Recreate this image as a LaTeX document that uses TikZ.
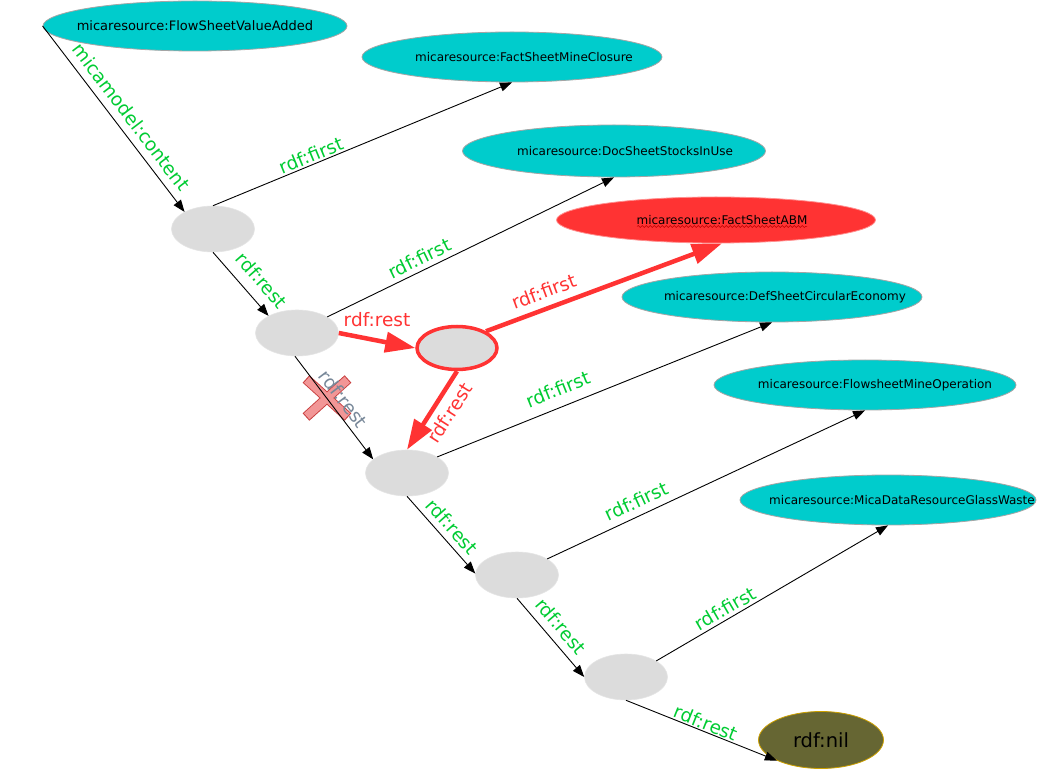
\documentclass[tikz,border=0pt]{standalone}
\usepackage{fontspec}
\setmainfont{DejaVu Sans}
\usetikzlibrary{shapes.geometric,arrows.meta,decorations.pathmorphing}
\definecolor{cyanfill}{RGB}{0,204,204}
\definecolor{cyanline}{RGB}{165,165,165}
\definecolor{blankfill}{RGB}{220,220,220}
\definecolor{blankline}{RGB}{228,228,228}
\definecolor{hired}{RGB}{255,51,51}
\definecolor{edgegreen}{RGB}{0,204,51}
\definecolor{nilfill}{RGB}{102,102,51}
\definecolor{nilline}{RGB}{204,160,0}
\definecolor{crossgray}{RGB}{120,136,153}
\definecolor{xfill}{RGB}{242,150,150}
\definecolor{xline}{RGB}{200,60,60}
\newcommand\restext[2]{\makebox[0pt]{\hspace*{#1}#2}}
\begin{document}
\begin{tikzpicture}[x=1pt,y=-1pt,
  res/.style={ellipse, draw=cyanline, line width=0.8pt, fill=cyanfill, inner sep=0pt,
    font=\fontsize{12}{14}\selectfont, minimum width=302pt, minimum height=50pt},
  blank/.style={ellipse, draw=blankline, line width=0.6pt, fill=blankfill, inner sep=0pt,
    minimum width=83pt, minimum height=46pt},
  nilnode/.style={ellipse, draw=nilline, line width=0.8pt, fill=nilfill, inner sep=0pt,
    minimum width=125pt, minimum height=57pt, font=\fontsize{19.5}{22}\selectfont},
  link/.style={draw=black, line width=0.9pt, -{Triangle[length=12pt,width=9pt]}},
  hilink/.style={draw=hired, line width=4.5pt, -{Triangle[length=30pt,width=20pt]}},
  lab/.style={inner sep=0pt, text=edgegreen, font=\fontsize{18.5}{21}\selectfont},
  elab/.style={lab, sloped},
]
\useasboundingbox (0,0) rectangle (1044,783);
\fill[white] (0,0) rectangle (1044,783);

% resource nodes
\node[res, minimum width=304pt, font=\fontsize{13}{15}\selectfont] (fva) at (195,26) {\restext{0pt}{micaresource:FlowSheetValueAdded}};
\node[res, minimum width=300pt] (fsmc) at (512,57) {\restext{24pt}{micaresource:FactSheetMineClosure}};
\node[res, minimum width=303pt, minimum height=52pt] (dssiu) at (614,151) {\restext{22pt}{micaresource:DocSheetStocksInUse}};
\node[res, fill=hired, draw=hired!55!white, minimum width=319pt, minimum height=46pt] (abm) at (716,220) {\restext{12pt}{micaresource:FactSheetABM}};
\node[res, minimum width=300pt] (dsce) at (772,297) {\restext{26pt}{micaresource:DefSheetCircularEconomy}};
\node[res, minimum width=302pt] (fmo) at (865,385) {\restext{20pt}{micaresource:FlowsheetMineOperation}};
\node[res, minimum width=296pt] (mdrgw) at (888,500) {\restext{28pt}{micaresource:MicaDataResourceGlassWaste}};
\node[nilnode] (nil) at (821,740) {\makebox[0pt]{rdf:nil}};

% spell-check underline
\draw[decorate, decoration={snake, amplitude=1pt, segment length=4pt}, red!75!black, line width=0.5pt] (637,226.5) -- (807,226.5);

% blank nodes
\node[blank] (b1) at (213,229) {};
\node[blank] (b2) at (297,333) {};
\node[blank, draw=hired, line width=3.5pt, minimum width=80pt, minimum height=43pt] (b3) at (457,348) {};
\node[blank] (b4) at (407,473) {};
\node[blank] (b5) at (517,575) {};
\node[blank] (b6) at (626,677) {};

% crossed-out mark
\begin{scope}[shift={(327,398)}]
  \draw[xline, line width=10pt] (-21,-19) -- (21,19) (21,-19) -- (-21,19);
  \draw[xfill, line width=8.2pt] (-20.3,-18.3) -- (20.3,18.3) (20.3,-18.3) -- (-20.3,18.3);
\end{scope}

% black edges
\draw[link] (fva.west) -- node[elab, pos=0.54, above, outer ysep=8.2pt] {micamodel:content} (b1.149);
\draw[link] (b1.north) -- node[elab, pos=0.34, above, outer ysep=2.1pt] {rdf:first} (fsmc.south);
\draw[link] (b1.south) -- node[elab, pos=0.63, above, outer ysep=11.1pt] {rdf:rest} (b2.149);
\draw[link] (b2.28) -- node[elab, pos=0.34, above, outer ysep=5.3pt] {rdf:first} (dssiu.south);
\draw[link] (b2.-95) -- node[elab, pos=0.49, above, outer ysep=5.8pt, text=crossgray] {rdf:rest} (b4.158);
\draw[link] (b4.28) -- node[elab, pos=0.38, above, outer ysep=10.8pt] {rdf:first} (dsce.south);
\draw[link] (b4.south) -- node[elab, pos=0.51, above, outer ysep=6.4pt] {rdf:rest} (b5.178);
\draw[link] (b5.28) -- node[elab, pos=0.30, above, outer ysep=7.4pt] {rdf:first} (fmo.south);
\draw[link] (b5.south) -- node[elab, pos=0.48, above, outer ysep=8.2pt] {rdf:rest} (b6.west);
\draw[link] (b6.28) -- node[elab, pos=0.32, above, outer ysep=3.3pt] {rdf:first} (mdrgw.south);
\draw[link] (b6.south) -- node[elab, pos=0.51, above, outer ysep=1.6pt] {rdf:rest} (nil.205);

% highlighted (red) edges
\draw[hilink] (b2.east) -- node[lab, text=hired, pos=0.5, above, outer ysep=13.8pt] {rdf:rest} (b3.west);
\draw[hilink] (b3.30) -- node[elab, text=hired, pos=0.27, above, outer ysep=9.9pt] {rdf:first} ([xshift=6pt]abm.south);
\draw[hilink] (b3.south) -- node[elab, text=hired, pos=0.42, below, outer ysep=9pt] {rdf:rest} (b4.north);
\end{tikzpicture}
\end{document}
